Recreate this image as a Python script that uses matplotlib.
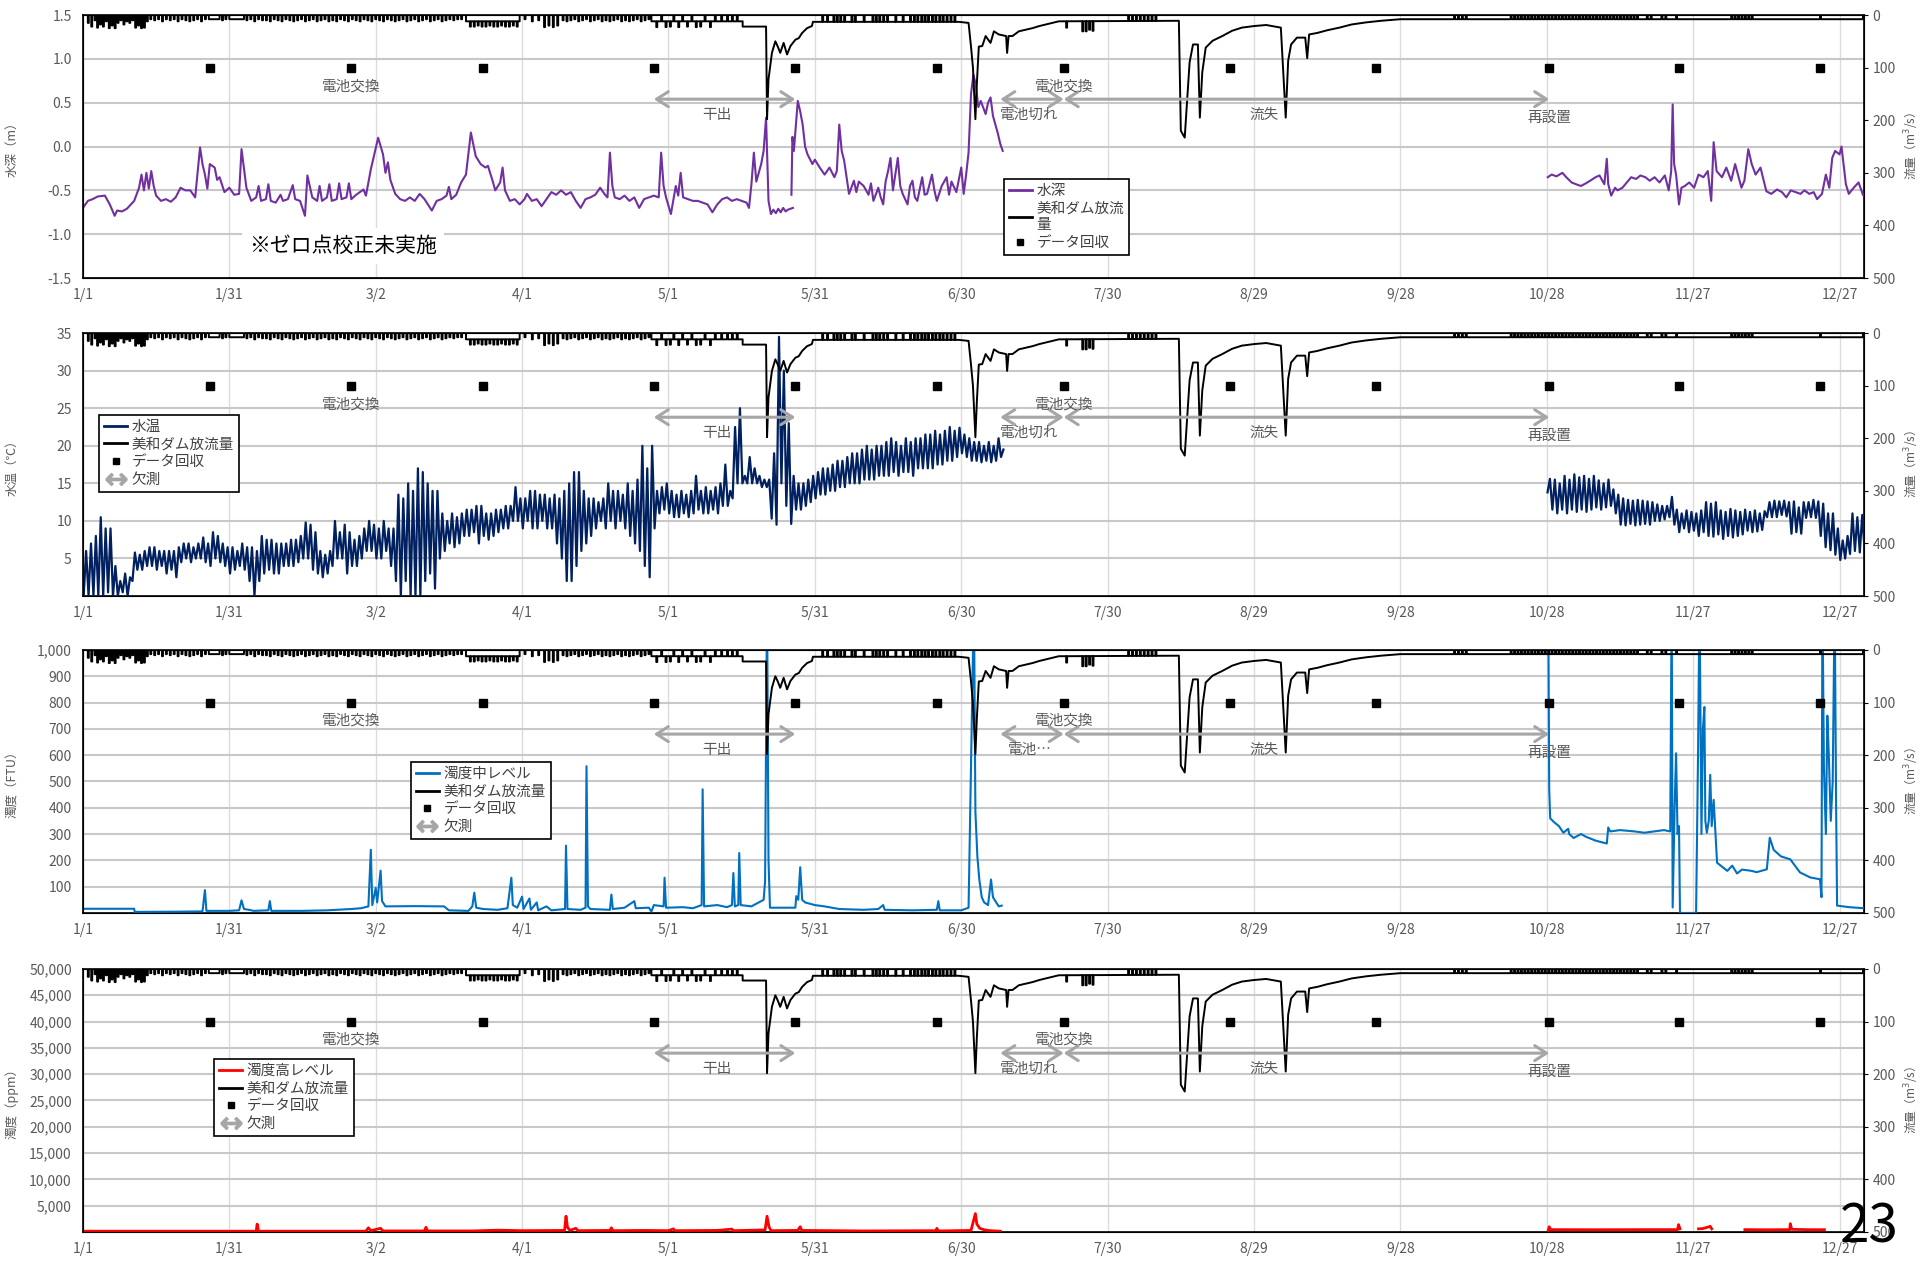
import numpy as np
import matplotlib
matplotlib.use("Agg")
import matplotlib.pyplot as plt
from matplotlib.lines import Line2D

plt.rcParams["font.family"] = ["Noto Sans CJK JP", "DejaVu Sans"]
plt.rcParams["axes.unicode_minus"] = False

# x axis: day of year (0 = 1/1)
date_ticks = [0, 30, 60, 90, 120, 150, 180, 210, 240, 270, 300, 330, 360]
date_labels = ["1/1", "1/31", "3/2", "4/1", "5/1", "5/31", "6/30", "7/30",
               "8/29", "9/28", "10/28", "11/27", "12/27"]

# データ回収日 and 欠測 periods (drawn on the flow axis)
collect_days = [26, 55, 82, 117, 146, 175, 201, 235, 265, 300.5, 327, 356]
missing_spans = [(117, 146), (188, 201), (201, 300.5)]

# 美和ダム放流量 (m3/s): baseline breakpoints + short release pulses
flow_base = [
    (0, 0), (25.8, 0), (25.8, 8), (28, 8), (28, 0), (30, 0), (30, 8), (33, 8), (33, 0),
    (78.5, 0), (78.5, 12), (89.5, 12), (89.5, 0), (116.5, 0), (116.5, 12), (135.2, 12),
    (135.2, 22), (140.0, 22), (140.2, 198), (140.5, 122), (141.2, 72), (141.9, 50),
    (142.4, 60), (142.9, 72), (143.6, 53), (144.3, 75), (145.0, 59), (146.0, 47),
    (146.7, 44), (147.4, 34), (148.4, 25), (149.4, 21), (149.6, 13), (179.5, 13),
    (181.5, 15), (182.0, 60), (182.4, 100), (182.9, 198), (183.2, 130), (183.6, 60),
    (184.3, 59), (185.0, 40), (186.0, 53), (186.7, 31), (187.7, 37), (189.2, 40),
    (189.4, 72), (189.7, 40), (190.5, 40), (191.8, 31), (194.6, 25), (196.0, 21),
    (200.0, 12), (224.6, 11), (225.0, 220), (225.8, 233), (226.3, 163), (226.8, 90),
    (227.5, 56), (228.5, 56), (228.9, 195), (229.4, 109), (230.1, 62), (231.5, 49),
    (233.5, 40), (235.5, 30), (237.5, 24), (240.0, 21), (242.5, 19), (245.5, 24),
    (246.5, 195), (247.0, 87), (247.6, 56), (248.8, 43), (250.5, 43), (250.9, 82),
    (251.3, 37), (253.0, 34), (255.0, 29), (257.5, 24), (260.0, 18), (263.0, 14),
    (266.0, 11), (270.0, 8), (364.8, 8), (364.8, 0), (365, 0),
]
flow_pulses = [
    (1.0, 15), (1.7, 22), (2.4, 10), (2.9, 24), (3.5, 18), (4.1, 22), (4.7, 12), (5.3, 25),
    (5.9, 20), (6.5, 25), (7.1, 15), (7.7, 10), (8.3, 18), (8.9, 12), (9.5, 15), (10.1, 10),
    (10.7, 24), (11.3, 20), (11.9, 25), (12.5, 24), (13.1, 12), (13.8, 8), (14.6, 10),
    (15.4, 8), (16.2, 12), (17.0, 8), (17.8, 10), (18.6, 8), (19.4, 12), (20.2, 8),
    (21.0, 10), (21.8, 12), (22.6, 10), (23.4, 8), (24.2, 12), (25.0, 8), (28.5, 10),
    (29.2, 8), (33.5, 10), (34.3, 8), (35.1, 12), (35.9, 8), (36.7, 10), (37.5, 10),
    (38.3, 12), (39.1, 8), (39.9, 10), (40.7, 12), (41.5, 8), (42.3, 10), (43.1, 12),
    (43.9, 10), (44.7, 8), (45.5, 12), (46.3, 10), (47.1, 8), (47.9, 12), (48.7, 10),
    (49.5, 8), (50.3, 12), (51.1, 10), (51.9, 12), (52.7, 8), (53.5, 10), (54.3, 12),
    (55.1, 8), (55.9, 10), (56.7, 12), (57.5, 8), (58.3, 10), (59.1, 12), (59.9, 8),
    (60.7, 10), (61.5, 12), (62.3, 8), (63.1, 10), (63.9, 12), (64.7, 10), (65.5, 8),
    (66.3, 12), (67.1, 10), (67.9, 8), (68.7, 12), (69.5, 10), (70.3, 8), (71.1, 12),
    (71.9, 10), (72.7, 8), (73.5, 12), (74.3, 10), (75.1, 8), (75.9, 10), (76.7, 8),
    (77.5, 8),
    (79.3, 22), (80.1, 22), (80.9, 20), (81.7, 22), (82.5, 22), (83.3, 20), (84.1, 22),
    (84.9, 22), (85.7, 20), (86.5, 22), (87.3, 22), (88.1, 20), (88.9, 22),
    (90.5, 8), (92.0, 12), (93.3, 10), (94.5, 23), (95.4, 20), (96.3, 23), (97.2, 20),
    (98.3, 10), (99.1, 12), (99.9, 10), (100.7, 8), (101.5, 12), (102.3, 10), (103.1, 8),
    (103.9, 12), (104.7, 10), (105.5, 8), (106.3, 12), (107.1, 10), (107.9, 12),
    (108.7, 10), (109.5, 8), (110.3, 12), (111.1, 10), (111.9, 12), (112.7, 10),
    (113.5, 8), (114.3, 12), (115.1, 10), (115.9, 8),
    (117.5, 23), (118.5, 0), (119.4, 23), (120.3, 22), (121.0, 0), (122.0, 23), (122.8, 0),
    (123.8, 22), (124.7, 0), (125.6, 23), (126.5, 22), (127.4, 0), (128.5, 23), (129.5, 0),
    (130.8, 0), (132.0, 0), (133.0, 0), (134.0, 0),
    (151.5, 0), (152.5, 0), (153.8, 0), (154.5, 0), (155.2, 0), (156.0, 0), (157.5, 0),
    (158.2, 0), (160.0, 0), (161.8, 0), (162.5, 0), (163.2, 0), (164.0, 0), (164.8, 0),
    (166.5, 0), (168.0, 0), (169.5, 0), (170.3, 0), (171.0, 0), (171.8, 0), (172.5, 0),
    (173.2, 0), (174.0, 0), (174.7, 0), (175.5, 0), (176.2, 0), (177.0, 0), (177.8, 0),
    (178.6, 0),
    (201.5, 24), (204.8, 31), (205.5, 31), (206.2, 28), (206.9, 30), (214.2, 0), (215.0, 0),
    (215.8, 0), (216.6, 0), (217.4, 0), (218.2, 0), (219.0, 0), (219.8, 0),
    (281.0, 0), (281.8, 0), (282.6, 0), (283.4, 0), (292.6, 0), (293.3, 0), (294.0, 0),
    (294.7, 0), (295.4, 0), (296.1, 0), (296.8, 0), (297.5, 0), (298.2, 0), (298.9, 0),
    (299.6, 0), (300.3, 0), (301.0, 0), (301.7, 0), (302.4, 0), (303.1, 0), (303.8, 0),
    (304.5, 0), (305.2, 0), (305.9, 0), (306.6, 0), (307.3, 0), (308.0, 0), (308.7, 0),
    (309.4, 0), (310.1, 0), (310.8, 0), (311.5, 0), (312.2, 0), (312.9, 0), (313.6, 0),
    (314.3, 0), (315.0, 0), (315.7, 0), (316.4, 0), (317.1, 0), (317.8, 0), (318.5, 0),
    (320.5, 0), (321.3, 0), (323.5, 0), (324.3, 0), (326.5, 0), (337.8, 0), (338.5, 0),
    (339.2, 0), (339.9, 0), (340.6, 0), (341.3, 0), (342.0, 0), (356.0, 0),
]
PULSE_W = 0.2

# 水深 (m), three logger periods
depth_a = [
    (0, -0.70), (1, -0.62), (2, -0.60), (3, -0.57), (4.5, -0.56), (5.5, -0.66), (6.5, -0.79),
    (7, -0.73), (8, -0.74), (9, -0.71), (10.5, -0.62), (11.5, -0.47), (12, -0.32), (12.5, -0.50),
    (13, -0.30), (13.5, -0.48), (14, -0.28), (14.5, -0.45), (15, -0.56), (16, -0.62), (17, -0.60),
    (18, -0.63), (19, -0.58), (20, -0.47), (21, -0.50), (22, -0.50), (23, -0.58), (24, -0.01),
    (24.5, -0.20), (25, -0.32), (25.5, -0.48), (26, -0.20), (27, -0.24), (27.5, -0.38),
    (28, -0.35), (29, -0.52), (30, -0.47), (31, -0.55), (32, -0.54), (32.5, -0.03), (33.5, -0.47),
    (34.5, -0.62), (35.5, -0.58), (36, -0.45), (36.5, -0.62), (37.5, -0.60), (38, -0.43),
    (38.5, -0.62), (39.5, -0.64), (40.5, -0.55), (41, -0.62), (42, -0.60), (43, -0.44),
    (43.5, -0.60), (44.5, -0.62), (45.5, -0.79), (46, -0.33), (47, -0.58), (48, -0.62),
    (48.5, -0.45), (49, -0.62), (50, -0.58), (50.5, -0.43), (51, -0.62), (52, -0.60),
    (52.5, -0.42), (53, -0.60), (54, -0.58), (54.5, -0.42), (55, -0.60), (56, -0.55),
    (57.5, -0.49), (58, -0.56), (59, -0.26), (60.5, 0.10), (61.5, -0.09), (62, -0.30),
    (62.5, -0.18), (63, -0.38), (64, -0.54), (65, -0.60), (66, -0.62), (67, -0.58), (68, -0.62),
    (69, -0.54), (70, -0.60), (71.5, -0.73), (72.5, -0.62), (73.5, -0.60), (74.5, -0.56),
    (75, -0.46), (75.5, -0.60), (76.5, -0.55), (77.5, -0.41), (78.5, -0.32), (79.5, 0.16),
    (80.5, -0.11), (81.5, -0.20), (82.5, -0.24), (83, -0.22), (84, -0.40), (84.5, -0.50),
    (85.5, -0.41), (86, -0.24), (86.5, -0.50), (87.5, -0.62), (88.5, -0.60), (89.5, -0.66),
    (90.5, -0.60), (91, -0.54), (92, -0.62), (93, -0.60), (94, -0.68), (95, -0.60), (96, -0.52),
    (97, -0.55), (98, -0.50), (99, -0.55), (100, -0.52), (101, -0.62), (102, -0.70), (103, -0.60),
    (104, -0.58), (105, -0.55), (106, -0.47), (107, -0.55), (107.5, -0.58), (108, -0.07),
    (108.5, -0.45), (109, -0.58), (110, -0.60), (111, -0.56), (112, -0.62), (113, -0.58),
    (114, -0.70), (115, -0.60), (116, -0.58), (117, -0.56), (118, -0.58), (118.5, -0.07),
    (119, -0.45), (119.5, -0.58), (120.5, -0.77), (121.5, -0.45), (122, -0.56), (122.5, -0.30),
    (123, -0.58), (124, -0.60), (125, -0.62), (126, -0.62), (127, -0.64), (128, -0.66),
    (129, -0.75), (130, -0.66), (131, -0.60), (132, -0.58), (133, -0.62), (134, -0.60),
    (135, -0.62), (136, -0.64), (136.5, -0.70), (137, -0.43), (137.5, -0.07), (138, -0.40),
    (138.5, -0.30), (139, -0.20), (139.5, -0.05), (140, 0.33), (140.5, -0.62), (141, -0.77),
    (141.5, -0.72), (142, -0.76), (142.5, -0.71), (143, -0.75), (143.5, -0.70), (144, -0.74),
    (144.5, -0.72), (145.5, -0.70),
]
depth_b = [
    (145.2, -0.55), (145.4, 0.11), (145.7, -0.05), (146.5, 0.52), (147, 0.40), (147.5, 0.25),
    (148, 0.0), (148.5, -0.09), (149.5, -0.20), (150, -0.15), (151, -0.24), (152, -0.32),
    (153, -0.24), (154, -0.35), (154.5, -0.28), (155, 0.25), (155.5, -0.05), (156, -0.16),
    (157, -0.54), (158, -0.39), (158.5, -0.52), (159, -0.40), (160, -0.45), (161, -0.55),
    (161.5, -0.42), (162, -0.62), (163, -0.47), (163.5, -0.58), (164, -0.66), (164.5, -0.40),
    (165, -0.28), (165.5, -0.13), (166, -0.50), (167, -0.13), (167.5, -0.45), (168, -0.54),
    (169, -0.66), (169.5, -0.45), (170, -0.39), (170.5, -0.58), (171, -0.62), (172, -0.35),
    (172.5, -0.55), (173, -0.54), (174, -0.32), (174.5, -0.50), (175, -0.62), (176, -0.45),
    (177, -0.35), (177.5, -0.55), (178, -0.40), (179, -0.52), (180, -0.24), (180.5, -0.54),
    (181, -0.32), (181.5, -0.07), (182, 0.60), (182.5, 0.82), (183, 0.70), (183.5, 0.45),
    (184, 0.52), (185, 0.37), (185.5, 0.50), (186, 0.56), (186.5, 0.35), (187, 0.25),
    (187.5, 0.15), (188, 0.03), (188.5, -0.05),
]
depth_c = [
    (300.2, -0.35), (301, -0.32), (302, -0.34), (303.2, -0.30), (304, -0.35), (305.1, -0.41),
    (306, -0.43), (307, -0.45), (308, -0.42), (308.9, -0.39), (310, -0.35), (310.8, -0.33),
    (311.8, -0.43), (312.3, -0.14), (312.6, -0.43), (313.2, -0.56), (314, -0.47), (314.5, -0.50),
    (315.5, -0.47), (316.4, -0.41), (317.3, -0.35), (318.3, -0.37), (319.2, -0.33), (320.2, -0.35),
    (321.1, -0.39), (322.1, -0.35), (323.1, -0.41), (324.2, -0.33), (325, -0.50), (325.5, -0.28),
    (325.8, 0.48), (326.1, -0.20), (326.5, -0.32), (327.1, -0.66), (327.6, -0.47), (328.3, -0.45),
    (329.2, -0.41), (330.2, -0.47), (331.1, -0.32), (332.1, -0.35), (333, -0.28), (333.7, -0.62),
    (334.2, 0.05), (334.8, -0.28), (335.9, -0.35), (336.8, -0.24), (337.8, -0.39), (338.6, -0.20),
    (339.9, -0.47), (340.5, -0.39), (341.3, -0.03), (342, -0.20), (342.8, -0.32), (343.8, -0.24),
    (345, -0.51), (346, -0.54), (347.2, -0.49), (348.2, -0.52), (349.1, -0.58), (350, -0.50),
    (351, -0.52), (352, -0.54), (352.8, -0.50), (353.8, -0.54), (354.7, -0.52), (355.4, -0.60),
    (356.4, -0.54), (357.2, -0.32), (357.9, -0.47), (358.5, -0.13), (359.1, -0.05), (360, -0.09),
    (360.4, 0.0), (361.3, -0.43), (361.9, -0.54), (362.9, -0.47), (363.9, -0.41), (364.8, -0.55),
]

# 水温 (deg C): daily low / high, days 0-188 and 300-365
temp_start_a = 0
temp_lo_a = [0, 0, 0, 0, 0, 0.5, 0, 0, 0.5, 0,
             2, 3.5, 3.5, 4, 4, 3.5, 4, 3, 3.5, 2.5,
             4.5, 5, 4.5, 5, 5, 4.5, 4, 5, 4.5, 4,
             3, 3.5, 4, 3.5, 2, 0, 2, 3, 3.5, 3,
             3, 4, 4, 4, 4.5, 5, 5, 3.5, 3, 2.5,
             3, 4, 5, 5, 3, 4, 4, 5, 6, 6,
             5, 5, 6, 4, 2, 0, 2, 0, 0, 0,
             2, 3, 1, 5, 6, 7, 6.5, 7, 8, 8,
             8.5, 7, 8, 7.5, 8, 8.5, 9, 9, 10, 10,
             9, 10, 9, 9, 10, 9, 9, 7, 5, 2,
             2, 4, 6, 7, 8, 9, 10, 9, 10, 9,
             10, 9, 8, 7, 6, 4, 2.5, 9, 11, 11.5,
             11, 10.5, 10.5, 11, 10.5, 11, 11.5, 11, 11, 11.5,
             11, 12, 12, 13, 15, 15, 15, 15, 15, 14.5,
             14.5, 10.3, 9.5, 15, 12, 9.6, 11.5, 11.5, 12, 12.5,
             13, 13.5, 13.5, 14, 14, 14.5, 14.5, 15, 15, 15,
             15.5, 15.5, 15.5, 16, 16, 16, 16.5, 16, 16.5, 16.5,
             16, 17, 17, 17, 17, 17.5, 17.5, 18, 18, 18.5,
             19, 18.5, 18, 18, 17.8, 18, 17.8, 18, 18.5]
temp_hi_a = [6, 7, 8, 10.5, 9, 9, 4, 2, 3, 2.5,
             5.8, 5.5, 6, 6.5, 6.5, 6, 6, 6, 6, 6.5,
             7, 7, 6.5, 7, 7.8, 7, 8.5, 8, 7, 6.5,
             6.5, 6, 7, 6.5, 6.5, 6, 8, 7.5, 7.5, 7,
             7, 7, 7.5, 7.5, 8, 9.8, 9.5, 8.5, 6, 5.5,
             6, 10, 8.5, 9.5, 8.5, 7.5, 8, 9, 10, 9.5,
             9, 10, 9, 9, 13.5, 13, 15, 14, 17, 16.5,
             15, 14, 14, 11, 10, 11, 10.5, 11, 11.5, 11.5,
             12, 12, 11, 11, 11.5, 11.5, 12, 12, 14.5, 13,
             13, 14, 14, 13.5, 13.5, 13, 13.5, 13, 14, 15,
             16.5, 16.5, 14, 13, 13, 12.5, 13, 15, 14, 14,
             13.5, 15, 14, 15.5, 20, 17, 20, 14, 14.5, 15,
             14, 13.5, 14, 13.5, 14, 16, 14, 14.5, 14, 14.5,
             15, 17.5, 14, 22.5, 25, 16, 18.5, 17, 16, 15.5,
             15.5, 19, 34.5, 30, 23, 16, 15, 15, 15.5, 16,
             16.5, 17, 17, 17.5, 18, 18, 18.5, 19, 19, 19.5,
             20, 19.5, 20, 20, 20.5, 21, 20.5, 20, 21, 20.5,
             21, 21, 21.5, 21.5, 22, 21.5, 22, 22.5, 22, 22.4,
             21.5, 21, 20.5, 20.5, 20, 20.5, 20, 21, 19.5]
temp_start_b = 300
temp_lo_b = [13.8, 11.5, 11, 11.5, 11, 11.5, 11.2, 11.5, 11.2, 11.5,
             11.8, 11.5, 11.8, 12, 11, 9.5, 9.4, 9.6, 9.4, 9.5,
             9.6, 9.5, 10, 10, 10.2, 10.5, 9.5, 8.5, 9, 8.5,
             8.7, 8, 8.5, 8, 7.9, 8.2, 7.6, 8, 7.8, 8,
             8.2, 8.7, 8.5, 8.6, 8.8, 10.5, 10.5, 10.5, 10.8, 10.6,
             8.3, 8.5, 8.3, 10.4, 10.5, 10.4, 8, 6.5, 6.1, 5.5,
             4.8, 5, 5.6, 6, 5.8, 6]
temp_hi_b = [15.6, 15.5, 15, 16, 15.5, 16.2, 15.8, 16, 15.6, 16,
             15.4, 15, 15.5, 14.2, 13.5, 13, 12.8, 12.7, 12.8, 12.7,
             12.6, 12.5, 12.2, 12, 12, 13.2, 11.5, 11, 11.4, 11.2,
             11, 11.4, 12.5, 12.3, 12.5, 11.4, 11.2, 11.6, 11.4, 11.2,
             11.5, 11.2, 11.4, 11, 11.3, 12.5, 12.7, 12.6, 12.7, 12.5,
             12.6, 11.8, 12.5, 12.5, 12.8, 12.6, 12.3, 11, 11, 9,
             7.4, 8, 11, 10.5, 10.8, 9]

# 濁度中レベル (FTU)
turb_mid_a = [
    (0, 16), (10.5, 16), (10.6, 4), (20, 5), (24.5, 6), (25, 87), (25.3, 8), (30, 8), (32, 10),
    (32.5, 48), (33, 15), (34, 12), (35, 8), (38, 10), (38.3, 45), (38.6, 8), (45, 8), (50, 10),
    (55, 15), (57, 18), (58.5, 25), (59, 240), (59.3, 30), (60, 95), (60.3, 40), (61, 161),
    (61.3, 45), (62, 25), (68, 26), (74, 25), (75, 10), (79, 8), (79.8, 25), (80.2, 77),
    (80.6, 20), (82, 15), (85, 12), (87, 18), (87.8, 134), (88.1, 30), (89, 20), (90, 62),
    (90.3, 15), (91.5, 55), (91.8, 12), (93, 40), (93.3, 10), (95, 25), (96, 10), (98.8, 15),
    (99, 256), (99.3, 15), (102, 12), (103, 20), (103.2, 558), (103.5, 25), (104, 15), (108, 12),
    (108.3, 70), (108.6, 15), (111, 20), (113, 45), (113.3, 18), (116, 20), (116.5, 5), (117, 30),
    (119, 25), (119.2, 134), (119.5, 20), (123, 22), (125, 18), (126.8, 30), (127, 470),
    (127.3, 25), (130, 30), (132, 22), (133, 30), (133.3, 152), (133.6, 25), (134.3, 30),
    (134.5, 228), (134.8, 30), (137, 25), (139.5, 50), (139.8, 120), (140.2, 1200), (140.5, 200),
    (140.8, 20), (146, 20), (146.2, 64), (146.6, 50), (147, 174), (147.4, 50), (148, 40),
    (150, 30), (152, 25), (155, 15), (160, 12), (163, 15), (164, 30), (164.3, 12), (170, 10),
    (175, 12), (175.3, 45), (175.6, 10), (180, 10), (181.5, 20), (182.6, 1200), (182.9, 386),
    (183.3, 216), (183.7, 127), (184.2, 60), (184.7, 40), (185.5, 30), (186.1, 127), (186.5, 60),
    (187.2, 39), (187.7, 25), (188.3, 28),
]
turb_mid_b = [
    (300.3, 1200), (300.5, 470), (300.7, 360), (301.5, 345), (302.5, 330), (303.4, 305),
    (304.4, 320), (304.6, 300), (305.5, 285), (307, 300), (308, 290), (310, 275), (312.3, 264),
    (312.6, 325), (313, 310), (315, 315), (318, 310), (320, 305), (322, 310), (324, 315),
    (325.3, 310), (325.6, 1200), (325.8, 21), (326.2, 400), (326.5, 607), (326.8, 300),
    (327.1, 330), (327.3, 0), (330.6, 0), (331.0, 600), (331.3, 1200), (331.7, 300), (332.0, 700),
    (332.3, 783), (332.5, 350), (332.8, 305), (333.2, 350), (333.5, 525), (333.8, 330),
    (334.2, 430), (334.9, 191), (336, 175), (337, 160), (338, 180), (339, 150), (340, 165),
    (342, 160), (343, 155), (345.1, 166), (345.7, 286), (346.5, 240), (348, 215), (349.9, 204),
    (351.9, 154), (354, 135), (356, 128), (356.3, 60), (356.5, 1200), (356.8, 550), (357.2, 300),
    (357.5, 750), (357.8, 600), (358.2, 350), (358.6, 500), (359, 1200), (359.3, 400),
    (359.5, 28), (362, 22), (365, 18),
]

# 濁度高レベル (ppm)
turb_high_a = [
    (0, 150), (35.5, 150), (35.7, 1500), (36, 150), (58, 150), (58.5, 800), (59, 250), (61, 700),
    (61.5, 200), (70, 200), (70.3, 900), (70.6, 200), (80, 200), (85, 350), (90, 250),
    (98.7, 300), (99, 3000), (99.3, 900), (99.8, 300), (101, 700), (101.5, 250), (108, 300),
    (108.3, 800), (108.6, 250), (115, 300), (120, 250), (121, 600), (121.3, 250), (130, 300),
    (133, 550), (133.3, 250), (139.8, 400), (140.2, 3000), (140.6, 1000), (141, 250),
    (146.5, 300), (147, 1000), (147.3, 300), (160, 200), (174.8, 250), (175, 700), (175.3, 200),
    (182, 300), (182.9, 3500), (183.2, 1500), (183.8, 700), (184.8, 400), (186, 250), (188, 150),
]
turb_high_b = [(300.3, 300), (300.5, 1000), (300.8, 450), (310, 430), (320, 450), (326.8, 450),
               (327.0, 1400), (327.3, 600)]
turb_high_c = [(331.1, 600), (332, 650), (333.5, 1070), (333.8, 600)]
turb_high_d = [(340.6, 450), (345, 420), (349.8, 450), (349.9, 1580), (350.2, 500),
               (354, 440), (356.9, 430)]

GRAY_TXT = "#595959"
ARROW_GRAY = "#a6a6a6"


def join_segments(*segs):
    xs, ys = [], []
    for seg in segs:
        if xs:
            xs.append(np.nan)
            ys.append(np.nan)
        for t, v in seg:
            xs.append(t)
            ys.append(v)
    return np.array(xs), np.array(ys)


def daily_zigzag(start, lo, hi):
    xs, ys = [], []
    for i, (a, b) in enumerate(zip(lo, hi)):
        xs += [start + i + 0.15, start + i + 0.65]
        ys += [a, b]
    return xs, ys


def build_flow():
    bt = np.array([p[0] for p in flow_base], dtype=float)
    bq = np.array([p[1] for p in flow_base], dtype=float)
    pts = [(t, k, q) for k, (t, q) in enumerate(flow_base)]
    n = len(pts)
    for j, (s, p) in enumerate(flow_pulses):
        b0 = float(np.interp(s, bt, bq))
        b1 = float(np.interp(s + PULSE_W, bt, bq))
        pts += [(s, n + 4 * j, b0), (s, n + 4 * j + 1, p),
                (s + PULSE_W, n + 4 * j + 2, p), (s + PULSE_W, n + 4 * j + 3, b1)]
    pts.sort(key=lambda r: (r[0], r[1]))
    return [r[0] for r in pts], [r[2] for r in pts]


flow_x, flow_y = build_flow()
depth_x, depth_y = join_segments(depth_a, depth_b, depth_c)
ta_x, ta_y = daily_zigzag(temp_start_a, temp_lo_a, temp_hi_a)
tb_x, tb_y = daily_zigzag(temp_start_b, temp_lo_b, temp_hi_b)
temp_x = ta_x + [np.nan] + tb_x
temp_y = ta_y + [np.nan] + tb_y
mid_x, mid_y = join_segments(turb_mid_a, turb_mid_b)
high_x, high_y = join_segments(turb_high_a, turb_high_b, turb_high_c, turb_high_d)

panels = [
    dict(x=depth_x, y=depth_y, color="#7030a0", lw=1.5, name="水深", ylabel="水深（m）",
         ylim=(-1.5, 1.5), ticks=[-1.5, -1.0, -0.5, 0.0, 0.5, 1.0, 1.5],
         ticklabels=["-1.5", "-1.0", "-0.5", "0.0", "0.5", "1.0", "1.5"],
         legend_at=(0.517, 0.376), flow_label="美和ダム放流\n量", with_missing=False,
         cut_label="電池切れ"),
    dict(x=temp_x, y=temp_y, color="#002060", lw=1.6, name="水温", ylabel="水温（℃）",
         ylim=(0, 35), ticks=[5, 10, 15, 20, 25, 30, 35],
         ticklabels=["5", "10", "15", "20", "25", "30", "35"],
         legend_at=(0.009, 0.689), flow_label="美和ダム放流量", with_missing=True,
         cut_label="電池切れ"),
    dict(x=mid_x, y=mid_y, color="#0070c0", lw=1.5, name="濁度中レベル", ylabel="濁度（FTU）",
         ylim=(0, 1000), ticks=list(range(100, 1001, 100)),
         ticklabels=["100", "200", "300", "400", "500", "600", "700", "800", "900", "1,000"],
         legend_at=(0.184, 0.574), flow_label="美和ダム放流量", with_missing=True,
         cut_label="電池…"),
    dict(x=high_x, y=high_y, color="#ff0000", lw=2.0, name="濁度高レベル", ylabel="濁度（ppm）",
         ylim=(0, 50000), ticks=list(range(5000, 50001, 5000)),
         ticklabels=["5,000", "10,000", "15,000", "20,000", "25,000", "30,000", "35,000",
                     "40,000", "45,000", "50,000"],
         legend_at=(0.0736, 0.658), flow_label="美和ダム放流量", with_missing=True,
         cut_label="電池切れ"),
]

fig = plt.figure(figsize=(19.2, 12.61), dpi=100)
bottoms = [0.7795, 0.5273, 0.2760, 0.0230]
L, W, H = 0.0432, 0.9276, 0.2086

for b, p in zip(bottoms, panels):
    ax = fig.add_axes([L, b, W, H])
    ax.plot(p["x"], p["y"], color=p["color"], lw=p["lw"], zorder=3)
    ax.set_xlim(0, 365)
    ax.set_ylim(*p["ylim"])
    ax.set_yticks(p["ticks"])
    ax.set_yticklabels(p["ticklabels"])
    ax.set_xticks(date_ticks)
    ax.set_xticklabels(date_labels)
    ax.set_axisbelow(True)
    ax.grid(axis="y", color="#c8c8c8", lw=1.5)
    ax.grid(axis="x", color="#dcdcdc", lw=1.0)
    ax.tick_params(axis="y", length=0, pad=8, labelsize=10, labelcolor=GRAY_TXT)
    ax.tick_params(axis="x", length=0, pad=7, labelsize=10, labelcolor=GRAY_TXT)
    ax.set_ylabel(p["ylabel"], fontsize=9, color=GRAY_TXT)
    ax.yaxis.set_label_coords(-0.036, 0.5)
    for sp in ax.spines.values():
        sp.set_color("black")
        sp.set_linewidth(1.2)

    ax2 = ax.twinx()
    ax2.set_ylim(500, 0)
    ax2.set_yticks([0, 100, 200, 300, 400, 500])
    ax2.tick_params(axis="y", length=3, pad=3, labelsize=10, labelcolor=GRAY_TXT)
    ax2.set_ylabel("流量（m$^3$/s）", fontsize=8.5, color=GRAY_TXT)
    ax2.yaxis.set_label_coords(1.0215, 0.5)
    ax2.plot(flow_x, flow_y, color="black", lw=1.4, zorder=2)
    ax2.plot(collect_days, [100] * len(collect_days), "s", color="black", ms=6, zorder=4)

    for a, c in missing_spans:
        ax2.annotate("", xy=(c, 160), xytext=(a, 160),
                     arrowprops=dict(arrowstyle="<->,head_length=0.7,head_width=0.45",
                                     color=ARROW_GRAY, lw=2.2, shrinkA=0, shrinkB=0,
                                     mutation_scale=12))

    notes = [("電池交換", 55, 135), ("電池交換", 201, 135), ("干出", 130, 190),
             (p["cut_label"], 194, 190), ("流失", 242, 190), ("再設置", 300.5, 195)]
    for txt, tx, ty in notes:
        ax2.text(tx, ty, txt, ha="center", va="center", fontsize=10.5, color=GRAY_TXT)

    handles = [Line2D([], [], color=p["color"], lw=2),
               Line2D([], [], color="black", lw=2),
               Line2D([], [], ls="none", marker="s", color="black", ms=5)]
    labels = [p["name"], p["flow_label"], "データ回収"]
    if p["with_missing"]:
        handles.append(Line2D([], [], ls="none", marker=r"$\leftrightarrow$",
                              color=ARROW_GRAY, ms=15))
        labels.append("欠測")
    leg = ax2.legend(handles, labels, loc="upper left", bbox_to_anchor=p["legend_at"],
                     borderaxespad=0, fontsize=10.5, frameon=True, fancybox=False,
                     framealpha=1, edgecolor="black", handlelength=1.6, handletextpad=0.3,
                     labelspacing=0.25, borderpad=0.35)
    leg.get_frame().set_linewidth(1.2)
    for t in leg.get_texts():
        t.set_color("#404040")
    leg.set_zorder(10)

    if p["name"] == "水深":
        ax.text(53.3, -1.135, "※ゼロ点校正未実施", ha="center", va="center", fontsize=15,
                color="black", zorder=5,
                bbox=dict(boxstyle="square,pad=0.35", facecolor="white", edgecolor="none"))

fig.text(0.9735, 0.027, "23", fontsize=38, ha="center", va="center", color="black")

fig.savefig("out.png", dpi=100)
